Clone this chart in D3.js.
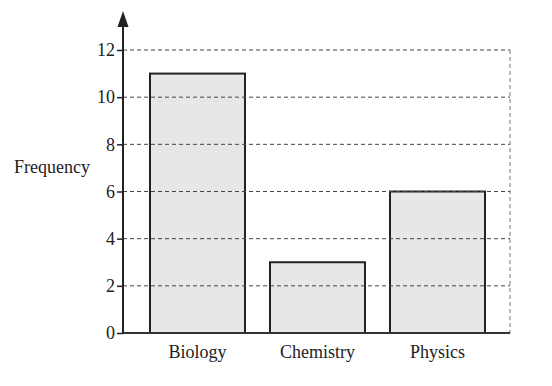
<!DOCTYPE html>
<html>
<meta charset="utf-8">
<style>
    body { margin: 0; background: #fff; }
</style>
<body>
<script src="https://d3js.org/d3.v7.min.js"></script>
<div id="chart"></div>
<script>
    var subjects = ["Biology", "Chemistry", "Physics"];
    var frequency = [11, 3, 6];
    var yTicks = [0, 2, 4, 6, 8, 10, 12];

    var serif = "'Liberation Serif', 'Times New Roman', Times, 'DejaVu Serif', serif";
    var width = 552, height = 386;
    var axisX = 123, rightX = 510, y0 = 333, yTop = 50;

    var svg = d3.select("#chart").append("svg")
        .attr("width", width)
        .attr("height", height)
        .attr("font-family", serif);

    var x = d3.scaleBand()
        .domain(subjects)
        .range([137.5, 497.5])
        .paddingInner(0.2083)
        .paddingOuter(0.1042);

    var y = d3.scaleLinear().domain([0, 12]).range([y0, yTop]);

    // bars
    svg.selectAll(".bar")
        .data(subjects)
        .enter().append("rect")
        .attr("class", "bar")
        .attr("x", function (d) { return x(d); })
        .attr("y", function (d, i) { return y(frequency[i]); })
        .attr("width", x.bandwidth())
        .attr("height", function (d, i) { return y0 - y(frequency[i]); })
        .attr("fill", "#e6e7e9")
        .attr("stroke", "#222")
        .attr("stroke-width", 2);

    // dashed grid lines over the bars
    svg.selectAll(".grid")
        .data(yTicks.filter(function (t) { return t > 0; }))
        .enter().append("line")
        .attr("x1", axisX).attr("x2", rightX)
        .attr("y1", function (d) { return y(d); })
        .attr("y2", function (d) { return y(d); })
        .attr("stroke", "#444")
        .attr("stroke-width", 1)
        .attr("stroke-dasharray", "4,3");

    // right dashed border
    svg.append("line")
        .attr("x1", rightX).attr("x2", rightX)
        .attr("y1", yTop).attr("y2", y0)
        .attr("stroke", "#777")
        .attr("stroke-width", 1)
        .attr("stroke-dasharray", "4,3");

    // baseline
    svg.append("line")
        .attr("x1", axisX).attr("x2", rightX)
        .attr("y1", y0).attr("y2", y0)
        .attr("stroke", "#333")
        .attr("stroke-width", 2);

    // y axis
    var yAxis = d3.axisLeft(y).tickValues(yTicks).tickSize(6).tickPadding(2);
    var gy = svg.append("g")
        .attr("transform", "translate(" + axisX + ",0)")
        .call(yAxis)
        .attr("font-family", serif)
        .attr("font-size", 18);
    gy.select(".domain").remove();
    gy.selectAll(".tick line").attr("stroke", "#222").attr("stroke-width", 1.5);
    gy.selectAll(".tick text").attr("fill", "#222");

    svg.append("line")
        .attr("x1", axisX).attr("x2", axisX)
        .attr("y1", y0 + 1).attr("y2", 22)
        .attr("stroke", "#222")
        .attr("stroke-width", 2);
    svg.append("path")
        .attr("d", "M" + axisX + ",11 L" + (axisX - 5.5) + ",27 L" + (axisX + 5.5) + ",27 Z")
        .attr("fill", "#222");

    // x labels
    svg.selectAll(".xlabel")
        .data(subjects)
        .enter().append("text")
        .attr("x", function (d) { return x(d) + x.bandwidth() / 2; })
        .attr("y", 358)
        .attr("text-anchor", "middle")
        .attr("font-size", 18)
        .attr("fill", "#222")
        .text(function (d) { return d; });

    svg.append("text")
        .attr("x", 14)
        .attr("y", 173)
        .attr("font-size", 18)
        .attr("fill", "#222")
        .text("Frequency");
</script>
</body>
</html>
